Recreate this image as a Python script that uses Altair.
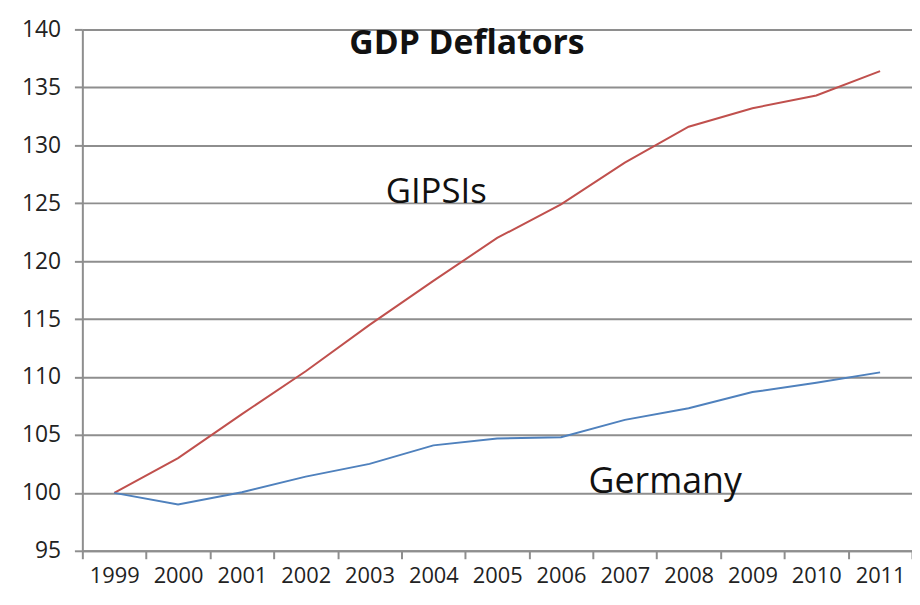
import altair as alt
import pandas as pd

years = [str(y) for y in range(1999, 2012)]
gipsis = [100.0, 103.0, 106.8, 110.5, 114.5, 118.3, 122.0, 124.9, 128.5, 131.6, 133.2, 134.3, 136.4]
germany = [100.0, 99.0, 100.05, 101.4, 102.5, 104.1, 104.7, 104.8, 106.3, 107.3, 108.7, 109.5, 110.4]
series_names = ["GIPSIs", "Germany"]
series_colors = ["#C0504D", "#4F81BD"]
y_ticks = list(range(95, 141, 5))

rows = []
for name, vals in zip(series_names, [gipsis, germany]):
    for yr, v in zip(years, vals):
        rows.append({"year": yr, "value": v, "series": name})
df = pd.DataFrame(rows)

FONT = "Open Sans"
GRID = "#8e8e8e"

x_enc = alt.X("year:O", sort=years,
              scale=alt.Scale(paddingInner=0, paddingOuter=0),
              axis=alt.Axis(title=None, labelAngle=0, tickBand="extent", grid=False,
                            domainColor=GRID, domainWidth=2, tickColor=GRID, tickWidth=2,
                            tickSize=8, labelPadding=7, labelFont=FONT, labelFontSize=22,
                            labelColor="#222222"))
y_enc = alt.Y("value:Q", scale=alt.Scale(domain=[95, 140], nice=False, zero=False),
              axis=alt.Axis(title=None, values=y_ticks, grid=True, gridColor=GRID, gridWidth=2,
                            domainColor=GRID, domainWidth=2, tickColor=GRID, tickWidth=2,
                            tickSize=8, labelPadding=14, labelFont=FONT, labelFontSize=23,
                            labelColor="#222222"))

lines = alt.Chart(df).mark_line(strokeWidth=2).encode(
    x=x_enc, y=y_enc,
    color=alt.Color("series:N", scale=alt.Scale(domain=series_names, range=series_colors), legend=None),
)

title = alt.Chart(pd.DataFrame({"t": ["GDP Deflators"]})).mark_text(
    font=FONT, fontSize=34, fontWeight="bold", color="#111111", align="center", baseline="alphabetic"
).encode(x=alt.value(388), y=alt.value(25), text="t:N")

lab1 = alt.Chart(pd.DataFrame({"t": ["GIPSIs"]})).mark_text(
    font=FONT, fontSize=35, color="#111111", align="center", baseline="alphabetic"
).encode(x=alt.value(357), y=alt.value(175), text="t:N")

lab2 = alt.Chart(pd.DataFrame({"t": ["Germany"]})).mark_text(
    font=FONT, fontSize=36, color="#111111", align="center", baseline="alphabetic"
).encode(x=alt.value(588), y=alt.value(468), text="t:N")

chart = alt.layer(lines, title, lab1, lab2).properties(
    width=837, height=526,
    autosize=alt.AutoSizeParams(type="none"),
    padding={"left": 75, "top": 19, "right": 0, "bottom": 44},
).configure_view(stroke=None).configure(background="white")

chart.save("out.html", embed_options={"renderer": "svg", "actions": False})
